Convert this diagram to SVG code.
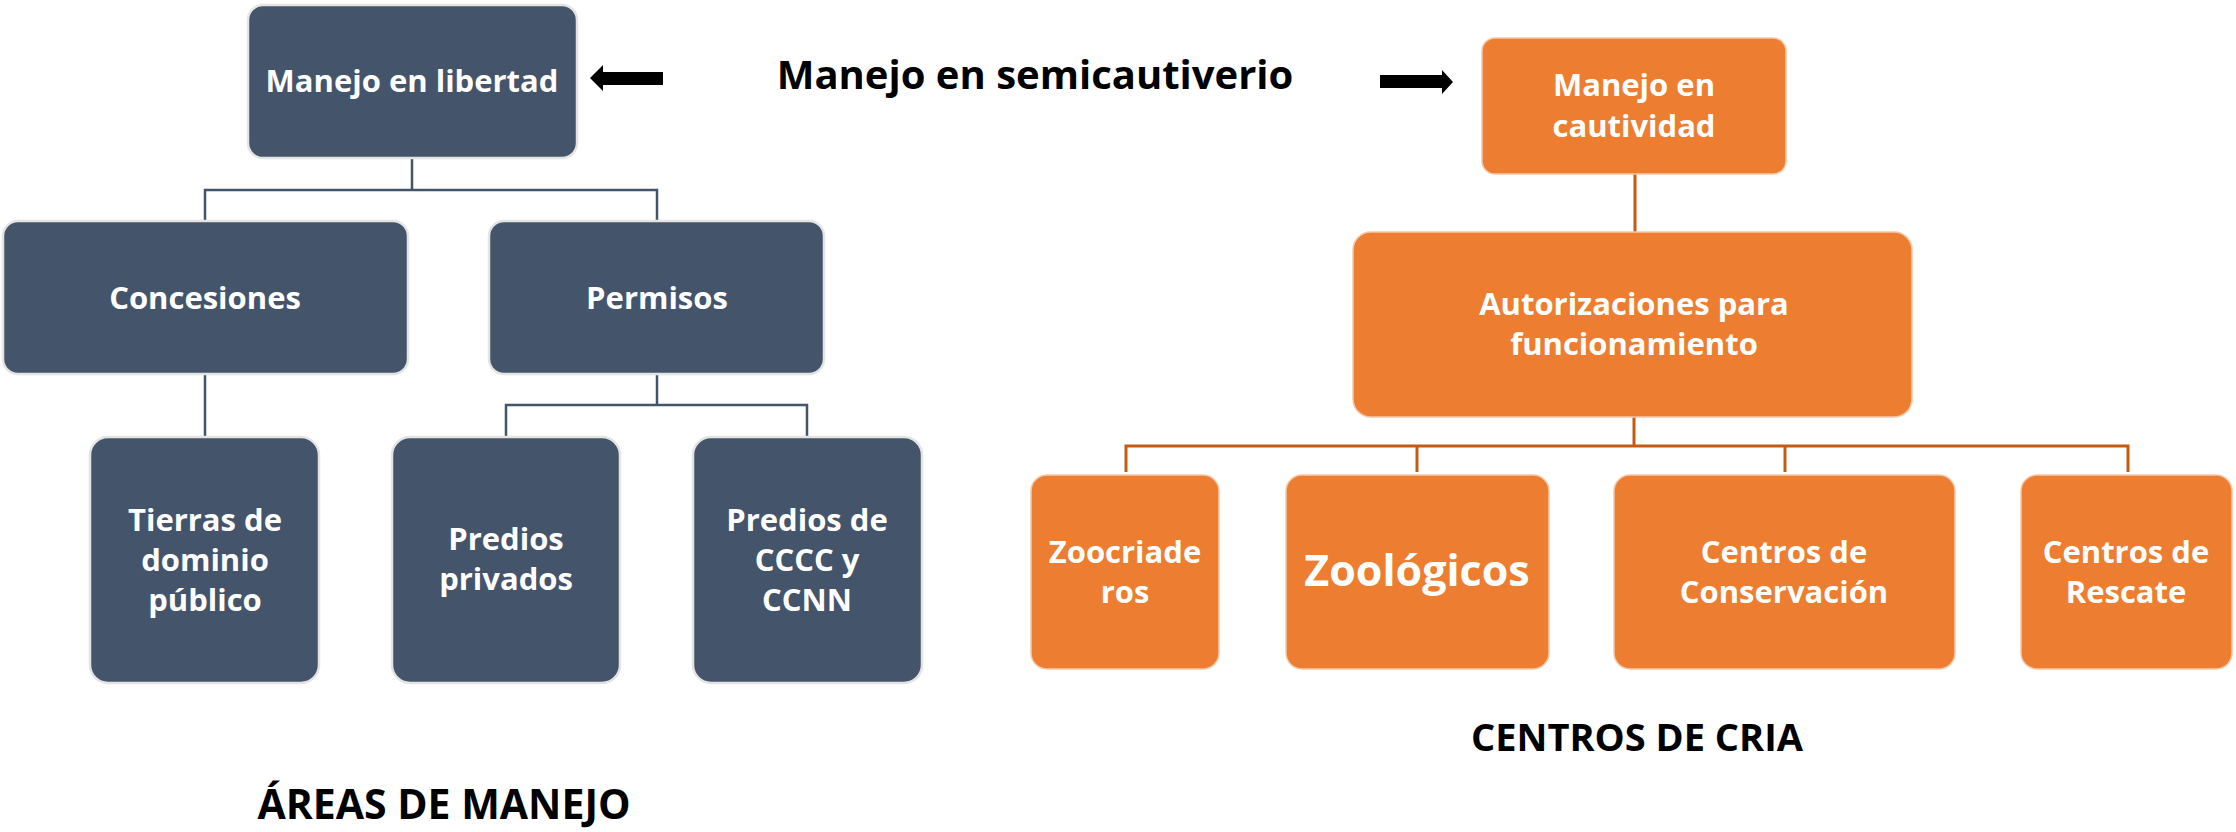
<svg xmlns="http://www.w3.org/2000/svg" width="2236" height="832" viewBox="0 0 2236 832">
<style>
.dk{fill:#44546A;stroke:#E4E4E4;stroke-width:2.5}
.or{fill:#ED7D31;stroke:#F6C8A8;stroke-width:1.5}
.t{font-family:"Open Sans","Liberation Sans",sans-serif;font-weight:700;fill:#FFFFFF;text-anchor:middle;font-size:31px}
.big{font-size:43px}
.h{font-family:"Open Sans","Liberation Sans",sans-serif;font-weight:700;fill:#000000;text-anchor:middle}
.cd{fill:none;stroke:#44546A;stroke-width:2.5}
.co{fill:none;stroke:#C55A11;stroke-width:3}
</style>
<rect width="2236" height="832" fill="#FFFFFF"/>
<g id="connectors">
<path class="cd" d="M412,158 V190 M205,221 V190 H657 V221 M205,374 V437 M657,374 V405 M506,437 V405 H807 V437"/>
<path class="co" d="M1635,174 V232 M1634,417 V446 M1126,472 V446 H2128 V472 M1417,446 V472 M1785,446 V472"/>
</g>
<g id="arrows">
<polygon points="590,78 603,65 603,72 663,72 663,85 603,85 603,91" fill="#000000"/>
<polygon points="1380,75 1442,75 1442,70 1453,82 1442,94 1442,88 1380,88" fill="#000000"/>
</g>
<g id="title-semicautiverio"><text class="h" x="1035" y="89" font-size="40">Manejo en semicautiverio</text></g>
<g id="node-libertad"><rect class="dk" x="248" y="5" width="329" height="153" rx="15"/><text class="t" x="412" y="92">Manejo en libertad</text></g>
<g id="node-concesiones"><rect class="dk" x="3" y="221" width="405" height="153" rx="15"/><text class="t" x="205" y="309">Concesiones</text></g>
<g id="node-permisos"><rect class="dk" x="489" y="221" width="335" height="153" rx="15"/><text class="t" x="657" y="309">Permisos</text></g>
<g id="node-tierras"><rect class="dk" x="90" y="437" width="229" height="246" rx="18"/><text class="t" x="205" y="531">Tierras de</text><text class="t" x="205" y="571">dominio</text><text class="t" x="205" y="611">público</text></g>
<g id="node-privados"><rect class="dk" x="392" y="437" width="228" height="246" rx="18"/><text class="t" x="506" y="550">Predios</text><text class="t" x="506" y="590">privados</text></g>
<g id="node-cccc"><rect class="dk" x="693" y="437" width="229" height="246" rx="18"/><text class="t" x="807" y="531">Predios de</text><text class="t" x="807" y="571">CCCC y</text><text class="t" x="807" y="611">CCNN</text></g>
<g id="node-cautividad"><rect class="or" x="1482" y="38" width="304" height="136" rx="13"/><text class="t" x="1634" y="96">Manejo en</text><text class="t" x="1634" y="137">cautividad</text></g>
<g id="node-autorizaciones"><rect class="or" x="1353" y="232" width="559" height="185" rx="18"/><text class="t" x="1634" y="315">Autorizaciones para</text><text class="t" x="1634" y="355">funcionamiento</text></g>
<g id="node-zoocriaderos"><rect class="or" x="1031" y="475" width="188" height="194" rx="16"/><text class="t" x="1125" y="563">Zoocriade</text><text class="t" x="1125" y="603">ros</text></g>
<g id="node-zoologicos"><rect class="or" x="1286" y="475" width="263" height="194" rx="16"/><text class="t big" x="1417" y="586">Zoológicos</text></g>
<g id="node-conservacion"><rect class="or" x="1614" y="475" width="341" height="194" rx="16"/><text class="t" x="1784" y="563">Centros de</text><text class="t" x="1784" y="603">Conservación</text></g>
<g id="node-rescate"><rect class="or" x="2021" y="475" width="211" height="194" rx="16"/><text class="t" x="2126" y="563">Centros de</text><text class="t" x="2126" y="603">Rescate</text></g>
<g id="label-areas"><text class="h" x="444" y="819" font-size="41">ÁREAS DE MANEJO</text></g>
<g id="label-centros"><text class="h" x="1637" y="751" font-size="38">CENTROS DE CRIA</text></g>
</svg>
